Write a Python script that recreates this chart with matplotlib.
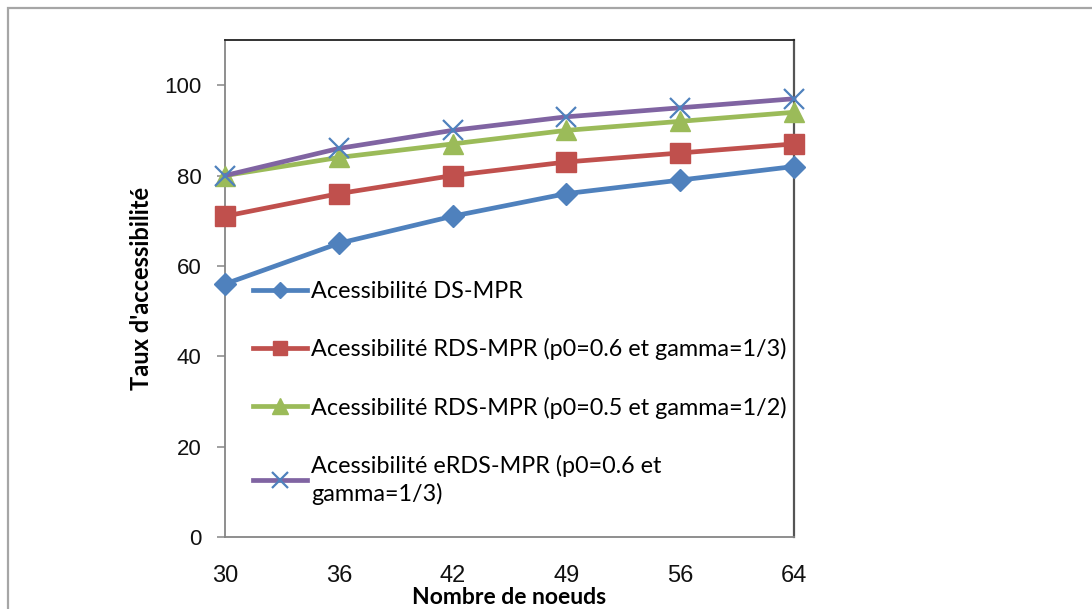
import matplotlib
matplotlib.use("Agg")
import matplotlib.pyplot as plt
from matplotlib.patches import Rectangle

# data
noeuds = ["30", "36", "42", "49", "56", "64"]
ds_mpr = [56, 65, 71, 76, 79, 82]
rds_mpr_06 = [71, 76, 80, 83, 85, 87]
rds_mpr_05 = [80, 84, 87, 90, 92, 94]
erds_mpr = [80, 86, 90, 93, 95, 97]

labels = [
    "Acessibilité DS-MPR",
    "Acessibilité RDS-MPR (p0=0.6 et gamma=1/3)",
    "Acessibilité RDS-MPR (p0=0.5 et gamma=1/2)",
    "Acessibilité eRDS-MPR (p0=0.6 et\ngamma=1/3)",
]

# excel 2007 palette
blue = "#4F81BD"
red = "#C0504D"
green = "#9BBB59"
purple = "#8064A2"

W, H = 1092, 609
fig = plt.figure(figsize=(W / 100, H / 100), dpi=100)
fig.patch.set_facecolor("white")

# outer chart frame (only top and left edges show in the crop)
fig.patches.append(Rectangle((8 / W, -0.1), 1.2, 1 - 8 / H + 0.1,
                             transform=fig.transFigure, fill=False,
                             edgecolor="#A6A6A6", linewidth=1.6))

ax = fig.add_axes([225 / W, 1 - 537 / H, (794 - 225) / W, (537 - 40) / H])
x = range(len(noeuds))

ax.plot(x, ds_mpr, color=blue, lw=3.4, marker="D", ms=11, clip_on=False,
        label=labels[0], zorder=3)
ax.plot(x, rds_mpr_06, color=red, lw=3.4, marker="s", ms=14, clip_on=False,
        label=labels[1], zorder=3)
ax.plot(x, rds_mpr_05, color=green, lw=3.4, marker="^", ms=15, clip_on=False,
        label=labels[2], zorder=3)
ax.plot(x, erds_mpr, color=purple, lw=3.4, marker="x", ms=15, mec=blue,
        mew=1.6, clip_on=False, label=labels[3], zorder=4)

ax.set_xlim(0, len(noeuds) - 1)
ax.set_ylim(0, 110)
ax.set_yticks(range(0, 101, 20))
ax.set_xticks(list(x))
ax.set_xticklabels(noeuds)

for side in ["left", "bottom"]:
    ax.spines[side].set_color("#868686")
    ax.spines[side].set_linewidth(1.3)
ax.spines["top"].set_color("#222222")
ax.spines["right"].set_color("#555555")
ax.spines["top"].set_linewidth(1.3)
ax.spines["right"].set_linewidth(1.6)

ax.tick_params(axis="y", direction="out", length=6, width=1.1, color="#868686",
               pad=11, labelsize=16, labelcolor="#111111")
ax.tick_params(axis="x", length=0, pad=20, labelsize=17, labelcolor="#111111")
for t in ax.get_xticklabels() + ax.get_yticklabels():
    t.set_fontfamily("Liberation Sans")

ax.set_ylabel("Taux d'accessibilité", fontfamily="Lato", fontweight="bold",
              fontsize=17, labelpad=8)
ax.set_xlabel("Nombre de noeuds", fontfamily="Lato", fontweight="bold",
              fontsize=16.5, labelpad=0)

leg = ax.legend(loc="upper left", bbox_to_anchor=(253 / W, 1 - 281 / H),
                bbox_transform=fig.transFigure, frameon=False,
                prop={"family": "Lato", "size": 16.8}, handlelength=2.3,
                handletextpad=0.2, labelspacing=1.55, borderpad=0,
                borderaxespad=0, markerscale=0.75)
# wrapped label sits a bit looser in the original
leg.get_texts()[-1].set_linespacing(1.35)

fig.savefig("out.png", dpi=100, facecolor="white")
